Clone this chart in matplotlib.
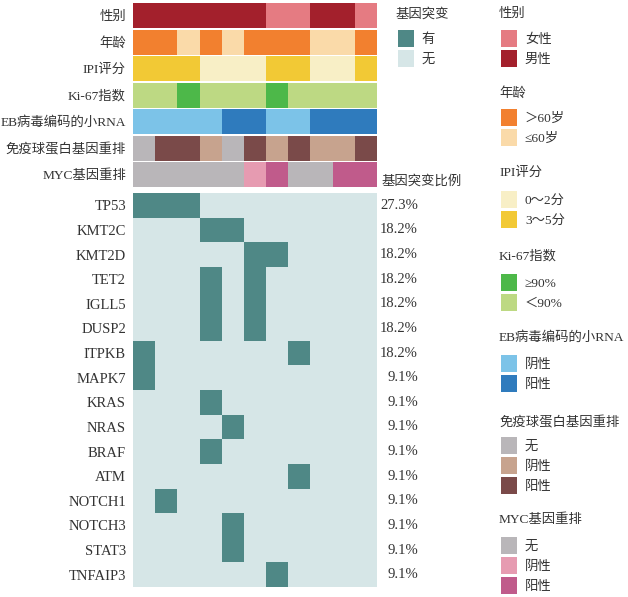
import numpy as np
import matplotlib.pyplot as plt
from matplotlib.colors import ListedColormap
from matplotlib.transforms import blended_transform_factory

plt.rcParams['font.family'] = ['Liberation Serif', 'Noto Sans CJK SC']
plt.rcParams['font.size'] = 10
TXT = '#333333'
FS_CN = 9.6
FS_EN = 10.5

# ---- clinical annotation rows (11 samples) ----
sex = ['男性'] * 6 + ['女性'] * 2 + ['男性'] * 2 + ['女性']
age = ['＞60岁', '＞60岁', '≤60岁', '＞60岁', '≤60岁', '＞60岁', '＞60岁', '＞60岁',
       '≤60岁', '≤60岁', '＞60岁']
ipi = ['3～5分'] * 3 + ['0～2分'] * 3 + ['3～5分'] * 2 + ['0～2分'] * 2 + ['3～5分']
ki67 = ['＜90%', '＜90%', '≥90%', '＜90%', '＜90%', '＜90%', '≥90%', '＜90%',
        '＜90%', '＜90%', '＜90%']
eber = ['阴性'] * 4 + ['阳性'] * 2 + ['阴性'] * 2 + ['阳性'] * 3
ig = ['无', '阳性', '阳性', '阴性', '无', '阳性', '阴性', '阳性', '阴性', '阴性', '阳性']
myc = ['无'] * 5 + ['阴性', '阳性', '无', '无', '阳性', '阳性']

annot_names = ['性别', '年龄', 'IPI评分', 'Ki-67指数', 'EB病毒编码的小RNA',
               '免疫球蛋白基因重排', 'MYC基因重排']
annot_rows = [sex, age, ipi, ki67, eber, ig, myc]
annot_levels = [
    ['女性', '男性'],
    ['＞60岁', '≤60岁'],
    ['0～2分', '3～5分'],
    ['≥90%', '＜90%'],
    ['阴性', '阳性'],
    ['无', '阴性', '阳性'],
    ['无', '阴性', '阳性'],
]
annot_colors = [
    ['#e57b82', '#a3202c'],
    ['#f2802f', '#fadaa9'],
    ['#f8efc6', '#f2c935'],
    ['#4db849', '#bdd983'],
    ['#7cc3e8', '#2f7bbd'],
    ['#b9b6b9', '#c7a38e', '#7a4a49'],
    ['#b9b6b9', '#e69bb1', '#c05b8b'],
]

# ---- mutation matrix ----
genes = ['TP53', 'KMT2C', 'KMT2D', 'TET2', 'IGLL5', 'DUSP2', 'ITPKB', 'MAPK7',
         'KRAS', 'NRAS', 'BRAF', 'ATM', 'NOTCH1', 'NOTCH3', 'STAT3', 'TNFAIP3']
mut_cols = [[0, 1, 2], [3, 4], [5, 6], [3, 5], [3, 5], [3, 5], [0, 7], [0],
            [3], [4], [3], [7], [1], [4], [4], [6]]
n_samples = 11
mut = np.zeros((len(genes), n_samples))
for i, cols in enumerate(mut_cols):
    mut[i, cols] = 1
mut_levels = ['有', '无']
mut_yes, mut_no = '#4f8886', '#d6e6e7'

W, H = 628, 597
fig = plt.figure(figsize=(W / 100, H / 100), dpi=100)


def fx(px):
    return px / W


def fy(px):
    return 1 - px / H


def clean(ax):
    ax.set_xticks([])
    for s in ax.spines.values():
        s.set_visible(False)


x0, x1 = 133, 377
for i, (name, row, levels, colors) in enumerate(zip(annot_names, annot_rows,
                                                    annot_levels, annot_colors)):
    top = 3 + i * 26.5
    ax = fig.add_axes([fx(x0), fy(top + 25), fx(x1 - x0), 25 / H])
    codes = np.array([[levels.index(v) for v in row]])
    ax.pcolormesh(codes, cmap=ListedColormap(colors), vmin=-0.5,
                  vmax=len(colors) - 0.5)
    ax.set_xlim(0, n_samples)
    ax.set_ylim(0, 1)
    ax.set_yticks([0.5], [name], color=TXT, fontsize=FS_CN)
    ax.tick_params(axis='y', length=0, pad=5)
    clean(ax)

mtop, mbot = 193, 587
axm = fig.add_axes([fx(x0), fy(mbot), fx(x1 - x0), (mbot - mtop) / H])
axm.pcolormesh(mut, cmap=ListedColormap([mut_no, mut_yes]), vmin=0, vmax=1)
axm.set_xlim(0, n_samples)
axm.set_ylim(len(genes), 0)
axm.set_yticks(np.arange(len(genes)) + 0.5, genes, color=TXT, fontsize=FS_EN)
axm.tick_params(axis='y', length=0, pad=5)
clean(axm)

tr = blended_transform_factory(fig.transFigure, axm.transData)
for i in range(len(genes)):
    pct = mut[i].sum() / n_samples * 100
    axm.text(fx(418), i + 0.5, f'{pct:.1f}%', transform=tr, ha='right',
             va='center', color=TXT, fontsize=FS_EN)
fig.text(fx(382), fy(181), '基因突变比例', ha='left', va='center', color=TXT,
         fontsize=FS_CN)

# ---- legends (color column + labels) ----
legends = [
    ('基因突变', mut_levels, [mut_yes, mut_no], 396, 14, 28),
    ('性别', annot_levels[0], annot_colors[0], 499, 14, 28),
    ('年龄', annot_levels[1], annot_colors[1], 499, 93, 107),
    ('IPI评分', annot_levels[2], annot_colors[2], 499, 173, 189),
    ('Ki-67指数', annot_levels[3], annot_colors[3], 499, 256, 272),
    ('EB病毒编码的小RNA', annot_levels[4], annot_colors[4], 499, 338, 353),
    ('免疫球蛋白基因重排', annot_levels[5], annot_colors[5], 499, 423, 435),
    ('MYC基因重排', annot_levels[6], annot_colors[6], 499, 520, 535),
]
for title, labels, colors, lx, ty, py in legends:
    fig.text(fx(lx), fy(ty), title, ha='left', va='center', color=TXT,
             fontsize=FS_CN)
    n = len(labels)
    lax = fig.add_axes([fx(lx), fy(py + n * 20), 19 / W, n * 20 / H])
    lax.pcolormesh(np.arange(n)[:, None], cmap=ListedColormap(colors),
                   vmin=-0.5, vmax=n - 0.5, edgecolors='white', linewidth=1)
    lax.set_xlim(0, 1)
    lax.set_ylim(n, 0)
    lax.yaxis.tick_right()
    lax.set_yticks(np.arange(n) + 0.5, labels, color=TXT, fontsize=FS_CN)
    lax.tick_params(axis='y', length=0, pad=5)
    clean(lax)

fig.savefig('out.png', dpi=100)
